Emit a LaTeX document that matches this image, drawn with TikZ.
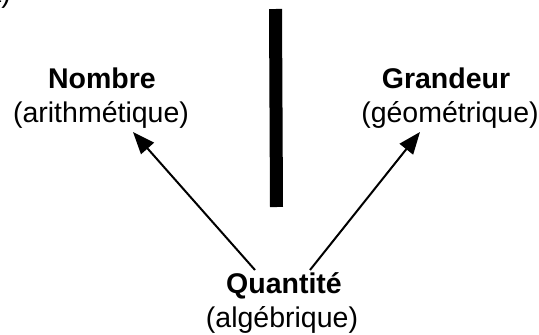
\documentclass[tikz,border=0pt]{standalone}
\usepackage{fontspec}
\setmainfont{Liberation Sans}
\usetikzlibrary{arrows.meta}
\begin{document}
\begin{tikzpicture}[x=1pt,y=-1pt,
  lbl/.style={inner sep=0pt,anchor=base,font=\fontsize{28.5}{34}\selectfont},
  ttl/.style={lbl,font=\fontsize{28.5}{34}\selectfont\bfseries},
  conn/.style={line width=2pt,-{Triangle[length=22pt,width=17pt]}},
  bar/.style={line width=13pt}]
\useasboundingbox (0,0) rectangle (539,335);
\node[lbl,anchor=base east] (corner) at (11,2) {a)};
\node[ttl] (nombre) at (102,88) {Nombre};
\node[lbl] (arith) at (101,122) {(arithmétique)};
\node[ttl] (grandeur) at (446,88) {Grandeur};
\node[lbl] (geom) at (450,122) {(géométrique)};
\node[ttl] (quant) at (284,293) {Quantité};
\node[lbl] (alg) at (282,327) {(algébrique)};
\coordinate (bartop) at (275.5,9);
\coordinate (barbot) at (276.5,207);
\draw[bar] (bartop) -- (barbot);
\coordinate (qL) at (255,270);
\coordinate (qR) at (310,270);
\coordinate (tipL) at (133,132);
\coordinate (tipR) at (420,132);
\draw[conn] (qL) -- (tipL);
\draw[conn] (qR) -- (tipR);
\end{tikzpicture}
\end{document}
